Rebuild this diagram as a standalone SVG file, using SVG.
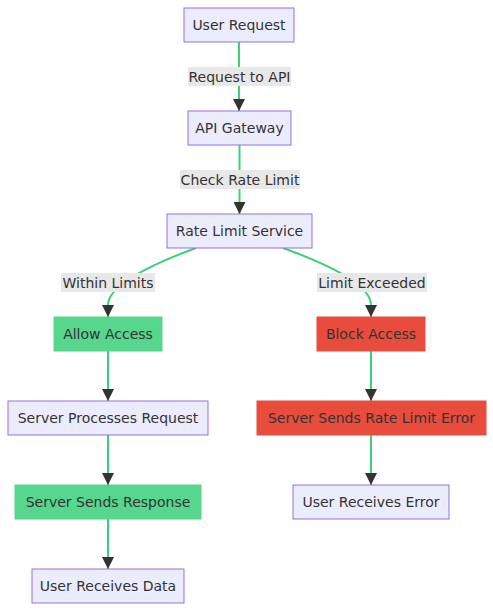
<svg xmlns="http://www.w3.org/2000/svg" width="493" height="611" viewBox="0 0 493 611">
<style>
.n rect{fill:#ECECFF;stroke:#9370DB;stroke-width:1}
.g rect{fill:#57d68d;stroke:#57d68d}
.r rect{fill:#e74c3c;stroke:#e74c3c}
text{font-family:"DejaVu Sans",Verdana,sans-serif;font-size:14px;fill:#333;text-anchor:middle;dominant-baseline:central}
.e path{fill:none;stroke:#3ecf7a;stroke-width:2}
.lb rect{fill:#e8e8e8;opacity:1}
</style>
<defs>
<marker id="ah" viewBox="0 0 10 10" refX="10" refY="5" markerWidth="6" markerHeight="6" markerUnits="strokeWidth" orient="auto">
<path d="M0,0L10,5L0,10z" fill="#333"/>
</marker>
</defs>
<rect width="493" height="611" fill="#fff"/>
<g id="edges" class="e">
<path d="M239,42V111" marker-end="url(#ah)"/>
<path d="M239.5,145V214" marker-end="url(#ah)"/>
<path d="M196,248C150,265 108,285 108,305V317" marker-end="url(#ah)"/>
<path d="M283,248C330,265 371,285 371,305V317" marker-end="url(#ah)"/>
<path d="M108,351V401" marker-end="url(#ah)"/>
<path d="M371,351V401" marker-end="url(#ah)"/>
<path d="M108,435V485" marker-end="url(#ah)"/>
<path d="M371,435V485" marker-end="url(#ah)"/>
<path d="M108,519V569" marker-end="url(#ah)"/>
</g>
<g id="edge-labels" class="lb">
<g><rect x="188" y="67" width="103" height="19"/><text x="239.5" y="76.5">Request to API</text></g>
<g><rect x="180" y="170" width="120" height="19"/><text x="240" y="179.5">Check Rate Limit</text></g>
<g><rect x="61" y="273" width="94" height="19"/><text x="108" y="282.5">Within Limits</text></g>
<g><rect x="317" y="273" width="110" height="19"/><text x="372" y="282.5">Limit Exceeded</text></g>
</g>
<g id="userRequest" class="n"><rect x="184" y="8" width="110" height="34"/><text x="239" y="25">User Request</text></g>
<g id="apiGateway" class="n"><rect x="188" y="111" width="103" height="34"/><text x="239.5" y="128">API Gateway</text></g>
<g id="rateLimitService" class="n"><rect x="167" y="214" width="145" height="34"/><text x="239.5" y="231">Rate Limit Service</text></g>
<g id="allowAccess" class="g"><rect x="54" y="317" width="108" height="34"/><text x="108" y="334">Allow Access</text></g>
<g id="blockAccess" class="r"><rect x="317" y="317" width="108" height="34"/><text x="371" y="334">Block Access</text></g>
<g id="serverProcesses" class="n"><rect x="8" y="401" width="200" height="34"/><text x="108" y="418">Server Processes Request</text></g>
<g id="serverSendsError" class="r"><rect x="257" y="401" width="229" height="34"/><text x="371.5" y="418">Server Sends Rate Limit Error</text></g>
<g id="serverSendsResponse" class="g"><rect x="15" y="485" width="186" height="34"/><text x="108" y="502">Server Sends Response</text></g>
<g id="userReceivesError" class="n"><rect x="293" y="485" width="156" height="34"/><text x="371" y="502">User Receives Error</text></g>
<g id="userReceivesData" class="n"><rect x="32" y="569" width="152" height="34"/><text x="108" y="586">User Receives Data</text></g>
</svg>
